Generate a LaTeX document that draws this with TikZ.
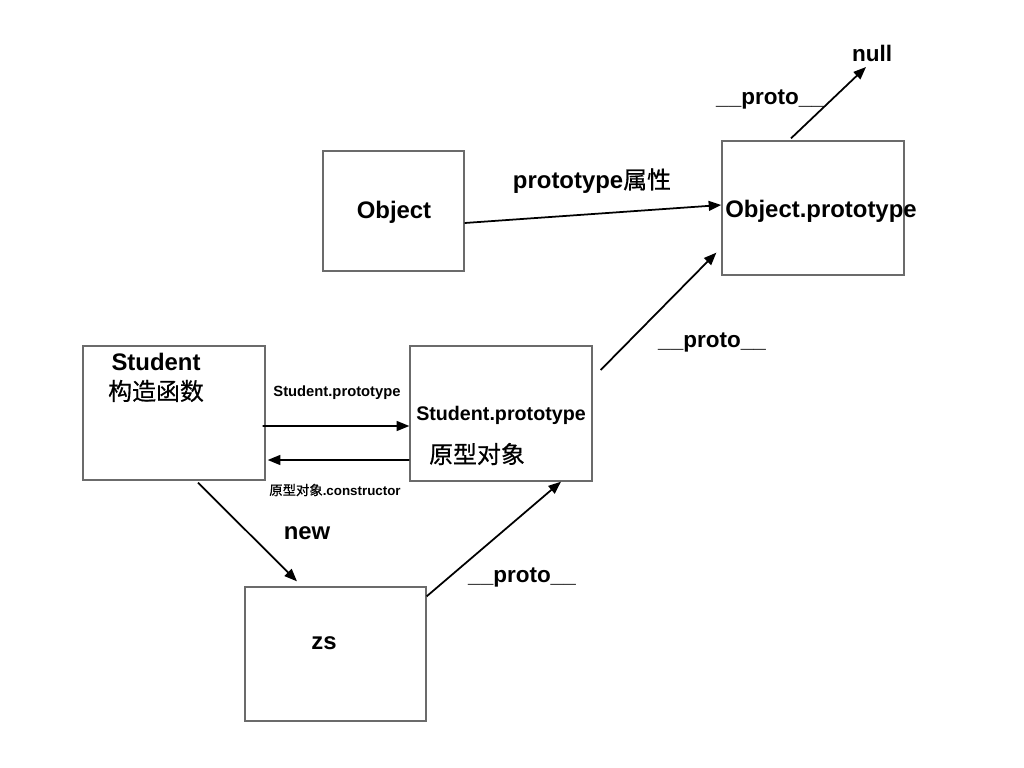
\documentclass[tikz,border=0pt]{standalone}
\usepackage{fontspec}
\setmainfont{Liberation Sans}
\newfontfamily\zhfont{Noto Sans CJK SC}[FakeBold=0.6]
\newcommand{\zh}[1]{{\zhfont\mdseries #1}}
\usetikzlibrary{arrows.meta,calc}
\begin{document}
\begin{tikzpicture}[x=0.025cm,y=-0.025cm,
  box/.style={draw=black!58,line width=0.9pt,inner sep=0pt,fill=none},
  arr/.style={line width=1.25pt,-{Triangle[length=9pt,width=7pt]}},
  txt/.style={inner sep=0pt,font=\bfseries\fontsize{17}{20}\selectfont},
  big/.style={inner sep=0pt,font=\bfseries\fontsize{16}{19}\selectfont},
  mid/.style={inner sep=0pt,font=\bfseries\fontsize{14}{17}\selectfont},
  small/.style={inner sep=0pt,font=\bfseries\fontsize{10.5}{12}\selectfont},
  tiny/.style={inner sep=0pt,font=\bfseries\fontsize{9.5}{11}\selectfont}]
\useasboundingbox[fill=white] (0,0) rectangle (1024,768);
% boxes
\node[box,minimum width=3.525cm,minimum height=3cm] (obj) at (393.5,211) {};
\node[box,minimum width=4.55cm,minimum height=3.35cm] (op) at (813,208) {};
\node[box,minimum width=4.55cm,minimum height=3.35cm] (stu) at (174,413) {};
\node[box,minimum width=4.55cm,minimum height=3.375cm] (sp) at (501,413.5) {};
\node[box,minimum width=4.525cm,minimum height=3.35cm] (zs) at (335.5,654) {};
% texts in boxes
\node[txt] (tobj) at (394,212) {Object};
\node[txt] (top) at (821,211) {Object.prototype};
\node[txt] (tstu) at (156,362) {Student};
\node[txt] (tstuzh) at (156,391) {\zh{构造函数}};
\node[mid] (tsp) at (501,415) {Student.prototype};
\node[txt] (tspzh) at (477,454) {\zh{原型对象}};
\node[txt] (tzs) at (324,643) {zs};
% labels
\node[big] (lnull) at (872,53) {null};
\node[big] (lp1) at (770,99) {\_\_proto\_\_};
\node[txt] (lpa) at (592,181) {prototype\zh{属性}};
\node[big] (lp2) at (712,342) {\_\_proto\_\_};
\node[small] (lsp) at (337,393) {Student.prototype};
\node[tiny] (lcon) at (335,490) {\zh{原型对象}.constructor};
\node[txt] (lnew) at (307,533) {new};
\node[big] (lp3) at (522,577) {\_\_proto\_\_};
% connectors
\coordinate (nullpt) at (866,67);
\draw[arr] ($(obj.east)+(0,12)$) -- ($(op.west)+(0,-3)$);
\draw[arr] ($(op.north)+(-22,-2)$) -- (nullpt);
\draw[arr] ($(sp.east)+(8,-43.5)$) -- ($(op.south west)+(-5,-23)$);
\draw[arr] ($(stu.east)+(-3,13)$) -- ($(sp.west)+(0,12.5)$);
\draw[arr] ($(sp.west)+(0,46.5)$) -- ($(stu.east)+(2,47)$);
\draw[arr] ($(stu.south)+(24,2)$) -- ($(zs.north)+(-38.5,-5)$);
\draw[arr] ($(zs.north east)+(0,10)$) -- ($(sp.south)+(60,0)$);
\end{tikzpicture}
\end{document}
